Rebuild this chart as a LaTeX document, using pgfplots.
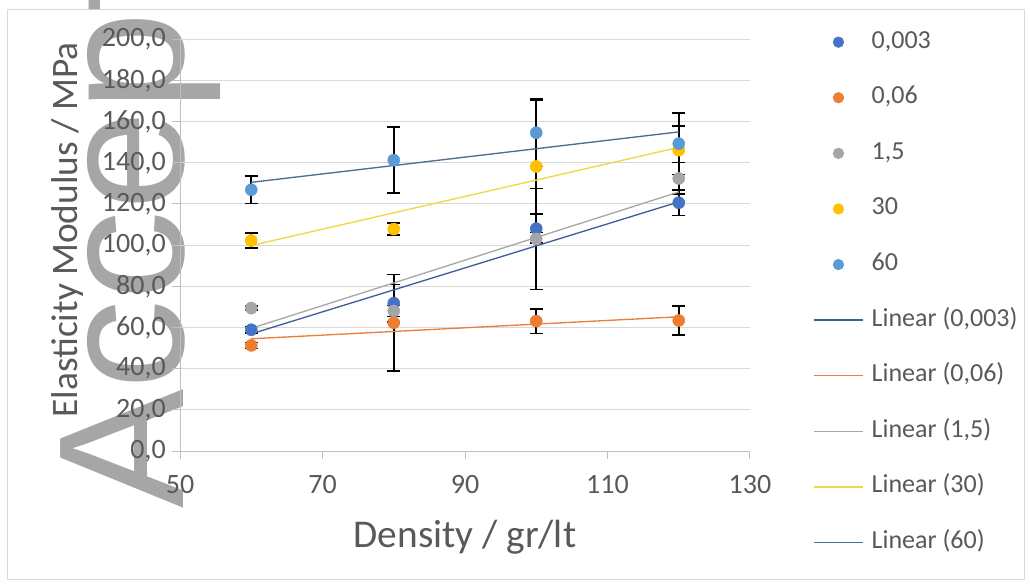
\documentclass[border=0pt]{standalone}
\usepackage{fontspec}
\setmainfont{Carlito}
\newfontfamily\wmfont{Liberation Sans}
\usepackage{pgfplots}
\pgfplotsset{compat=1.18}
\usepackage{pgfplotstable}

\definecolor{sA}{HTML}{4472C4}
\definecolor{sB}{HTML}{ED7D31}
\definecolor{sC}{HTML}{A5A5A5}
\definecolor{sD}{HTML}{FFC000}
\definecolor{sE}{HTML}{5B9BD5}
\definecolor{tA}{HTML}{3F5F9A}
\definecolor{tB}{HTML}{E8803C}
\definecolor{tC}{HTML}{A8A8A8}
\definecolor{tD}{HTML}{F2D646}
\definecolor{tE}{HTML}{4D6E8E}
\definecolor{labc}{HTML}{595959}
\definecolor{gridc}{HTML}{D9D9D9}
\definecolor{axisc}{HTML}{BFBFBF}
\definecolor{wmgray}{HTML}{A6A6A6}

% x  y  err
\pgfplotstableread{
x y e
60 58.9 1.5
80 71.8 9.0
100 108.0 7.0
120 120.6 6.3
}\dA
\pgfplotstableread{
x y e
60 51.3 1.5
80 62.3 23.5
100 63.1 6.0
120 63.4 7.0
}\dB
\pgfplotstableread{
x y e
60 69.4 1.0
80 68.0 2.6
100 103.0 24.5
120 132.4 7.7
}\dC
\pgfplotstableread{
x y e
60 102.2 3.6
80 107.8 3.0
100 138.2 32.0
120 146.1 11.8
}\dD
\pgfplotstableread{
x y e
60 126.9 6.7
80 141.3 16.0
100 154.6 16.5
120 149.3 15.0
}\dE

\pgfplotsset{
  mk/.style={only marks, mark=*, mark size=4.5pt, color=#1,
    mark options={draw=#1, fill=#1},
    error bars/.cd, y dir=both, y explicit, error mark=|,
    error bar style={black, line width=1.2pt},
    error mark options={black, line width=1.2pt, mark size=5pt},
    /pgfplots/.cd,
    legend image code/.code={\draw[mark repeat=2,mark phase=2,##1, mark size=4pt] plot coordinates {(0pt,0pt)(18.4pt,0pt)(36.8pt,0pt)};}},
  tl/.style={no marks, color=#1, line width=1pt,
    legend image code/.code={\draw[##1] (0pt,0pt) -- (36.8pt,0pt);}},
}

\begin{document}
\begin{tikzpicture}
\path[use as bounding box] (0,0) rectangle (772.5pt,438.75pt);
\fill[white] (0,0) rectangle (772.5pt,438.75pt);
\draw[color=gridc, line width=0.75pt] (5.6pt,4.5pt) rectangle (768pt,431.25pt);
\begin{scope}
\clip (0,0) rectangle (772.5pt,438.75pt);
\node[rotate=90, anchor=base west, inner sep=0pt, text=wmgray,
  font=\wmfont\fontsize{134}{134}\selectfont] at (137.25pt,57pt) {Accepted};
\end{scope}
\begin{axis}[
  at={(135pt,100.5pt)}, anchor=south west,
  scale only axis, width=427.5pt, height=308.8pt,
  xmin=50, xmax=130, ymin=0, ymax=200,
  xtick={50,70,90,110,130}, ytick={0,20,...,200},
  ymajorgrids, grid style={color=gridc, line width=0.75pt},
  axis x line*=bottom, axis y line*=left,
  axis line style={color=axisc, line width=0.75pt},
  tick align=outside, major tick length=6pt,
  tick style={color=axisc, line width=0.75pt},
  ticklabel style={font=\fontsize{21}{23}\selectfont, text=labc},
  yticklabel style={/pgf/number format/fixed, /pgf/number format/fixed zerofill,
    /pgf/number format/precision=1, /pgf/number format/use comma,
    /pgf/number format/assume math mode=true,
    anchor=east, inner sep=0pt, xshift=-4.5pt},
  xticklabel style={/pgf/number format/assume math mode=true,
    anchor=north, inner sep=0pt, yshift=-12pt},
  xlabel={Density / gr/lt},
  xlabel style={at={(axis description cs:0.5,-0.209)}, anchor=center,
    font=\fontsize{29.5}{31}\selectfont, text=labc},
  ylabel={Elasticity Modulus / MPa},
  ylabel style={at={(axis description cs:-0.197,0.537)}, anchor=center,
    font=\fontsize{28}{30}\selectfont, text=labc},
  legend cell align=left,
  legend style={at={(axis description cs:1.1105,1.0228)}, anchor=north west,
    draw=none, fill=none, inner sep=0pt, row sep=23.7pt, column sep=6pt,
    font=\fontsize{19.5}{21}\selectfont, text=labc,
    nodes={inner sep=0pt, text height=13.5pt, text depth=4.5pt}},
]
\addplot[mk=sA] table[x=x, y=y, y error=e] {\dA};
\addplot[mk=sB] table[x=x, y=y, y error=e] {\dB};
\addplot[mk=sC] table[x=x, y=y, y error=e] {\dC};
\addplot[mk=sD] table[x=x, y=y, y error=e] {\dD};
\addplot[mk=sE] table[x=x, y=y, y error=e] {\dE};
\addplot[tl=tA] coordinates {(60,56.9) (120,121.0)};
\addplot[tl=tB] coordinates {(60,54.5) (120,65.2)};
\addplot[tl=tC] coordinates {(60,59.6) (120,125.8)};
\addplot[tl=tD] coordinates {(60,99.8) (120,147.5)};
\addplot[tl=tE] coordinates {(60,130.5) (120,155.0)};
\legend{{0,003}, {0,06}, {1,5}, {30}, {60}, {Linear (0,003)}, {Linear (0,06)}, {Linear (1,5)}, {Linear (30)}, {Linear (60)}}
\end{axis}
\end{tikzpicture}
\end{document}
